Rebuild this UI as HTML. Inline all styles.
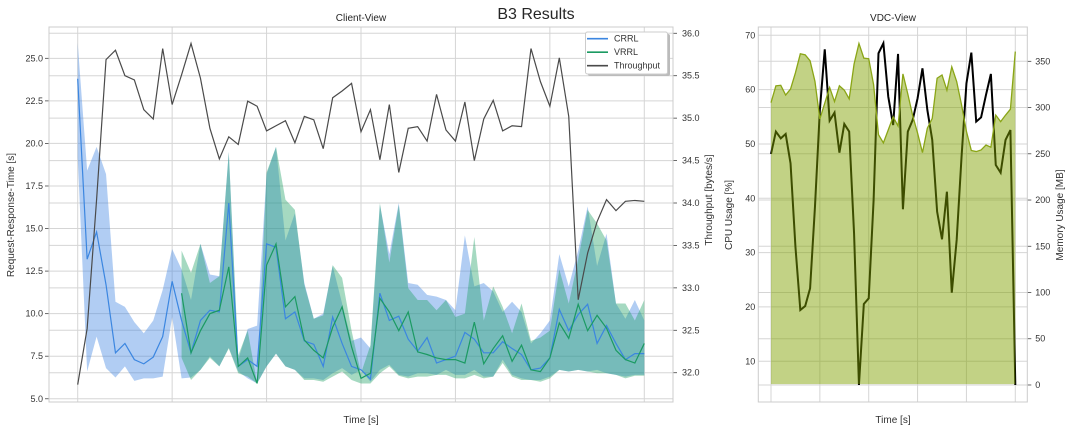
<!DOCTYPE html>
<html><head><meta charset="utf-8"><style>
body{margin:0;background:#fff;width:1073px;height:431px;overflow:hidden}
svg{display:block;font-family:"Liberation Sans","DejaVu Sans",sans-serif}
</style></head><body>
<svg id="chart" width="1073" height="431" viewBox="0 0 1073 431">
<text x="536" y="19" font-size="16" text-anchor="middle" fill="#262626">B3 Results</text>
<text x="361" y="21" font-size="10" text-anchor="middle" fill="#262626">Client-View</text>
<text x="893" y="21" font-size="10" text-anchor="middle" fill="#262626">VDC-View</text>
<g id="g1"></g>
<g id="g2"></g>
</svg>
<script>
// ---- Client view data ----
const clientTicksLeft=[5,7.5,10,12.5,15,17.5,20,22.5,25];
const clientTicksRight=[32,32.5,33,33.5,34,34.5,35,35.5,36];
const throughput=[31.86,32.52,34.04,35.69,35.80,35.50,35.45,35.10,34.99,35.82,35.16,35.51,35.88,35.47,34.88,34.52,34.78,34.69,35.20,35.14,34.85,34.91,34.97,34.71,35.02,34.98,34.64,35.24,35.32,35.41,
34.84,35.10,34.51,35.16,34.36,34.88,34.90,34.73,35.28,34.86,34.73,35.19,34.50,34.99,35.21,34.85,34.91,34.90,35.82,35.43,35.14,35.71,35.02,32.86,33.41,33.78,34.04,33.91,34.02,34.03,34.02];
const crrlMean=[23.8,13.2,14.8,11.7,7.7,8.25,7.3,7.05,7.45,8.65,11.9,9.6,7.7,9.6,10.2,10.1,16.5,6.9,7.3,6.9,14.1,13.9,9.7,10.1,8.4,8.2,6.9,9.8,8.25,6.9,
6.7,6.15,11.2,9.6,9.85,8.5,7.8,8.6,7.1,7.3,7.5,8.9,8.5,7.7,7.7,8.35,7.95,7.6,6.7,6.8,7.4,10.25,9.0,9.95,10.55,8.25,9.3,8.25,7.3,7.65,7.65];
const crrlUpper=[25.9,18.4,19.8,18.2,10.7,10.4,9.5,8.85,9.6,11.4,13.8,12.6,10.8,14.1,12.3,12.2,19.5,7.3,9.1,9.3,18.2,19.8,14.3,15.9,11.8,9.7,10.0,12.8,10.6,8.4,
8.6,7.95,16.4,13.5,16.5,11.8,11.7,11.1,11.0,10.8,10.2,14.6,11.6,11.8,11.3,10.1,10.7,10.1,8.25,8.85,9.6,13.5,11.6,13.7,16.3,12.8,14.7,10.6,9.7,10.8,9.6];
const crrlLower=[19.2,6.6,8.65,6.8,6.25,6.9,6.05,6.2,6.2,6.3,9.8,6.2,6.25,6.7,7.5,6.9,8.0,6.6,6.2,5.9,6.9,7.65,6.9,6.7,6.2,6.2,6.1,6.5,6.8,6.4,
6.7,6.0,6.7,7.0,6.4,6.3,6.5,6.5,6.4,6.7,6.4,6.4,6.7,6.3,6.3,7.3,6.4,6.2,6.1,6.1,6.3,6.7,6.6,6.7,6.6,6.7,6.5,6.4,6.3,6.4,6.4];
const vrrlStart=11;
const vrrlMean=[11.2,7.7,9.0,10.0,10.2,12.75,6.9,7.4,5.9,12.85,14.1,10.4,11.0,8.45,7.85,7.4,9.2,10.4,8.05,
6.2,6.5,10.9,10.1,9.0,10.1,7.75,7.6,7.4,7.3,7.3,7.1,9.5,7.05,7.95,8.7,7.2,8.15,6.7,6.6,7.4,9.45,8.55,10.55,9.0,9.9,9.15,7.85,7.3,7.1,8.25];
const vrrlUpper=[13.7,12.4,14.1,11.8,12.2,19.5,7.55,9.0,5.9,18.3,19.8,16.7,16.1,11.7,9.7,9.9,12.85,12.1,9.0,
6.5,8.15,16.5,13.0,16.4,11.5,10.8,10.8,10.2,10.8,9.8,10.0,14.5,9.6,11.6,10.4,8.85,10.6,8.4,8.6,9.0,12.6,10.6,13.2,16.1,15.3,14.3,10.6,10.6,9.6,10.8];
const vrrlLower=[7.4,6.1,6.7,7.4,6.9,7.95,6.5,6.3,5.9,6.9,7.65,6.9,6.7,6.1,6.1,6.0,6.3,6.6,6.1,
5.9,5.9,6.5,6.9,6.35,6.2,6.3,6.3,6.4,6.4,6.2,6.2,6.4,6.2,6.3,7.1,6.3,6.1,6.1,6.0,6.2,6.7,6.6,6.7,6.6,6.5,6.5,6.4,6.2,6.35,6.35];
// ---- VDC view data ----
const vdcTicksLeft=[10,20,30,40,50,60,70];
const vdcTicksRight=[0,50,100,150,200,250,300,350];
const cpuUsage=[57.6,60.7,60.8,59.0,60.1,63.1,66.6,66.4,65.3,61.5,54.6,57.5,60.4,57.8,60.7,59.9,58.3,64.7,68.5,65.8,65.7,60.9,51.7,50.2,52.6,55.0,53.3,62.9,59.2,55.2,52.0,48.4,52.9,54.7,62.1,62.7,59.9,64.2,61.5,57.2,52.3,48.8,48.6,48.9,49.8,49.4,55.3,54.1,55.3,56.4,67.0];
const cpuBase=5.8;
const memUsage=[249.8,274,266.7,271.4,239.7,149.5,81.1,85.4,104.5,192.8,297.4,363,285.8,294.5,251.2,282.2,274,164,0,87.6,93.7,200,358.7,369.5,311.8,281.1,358,190,274,286.6,310,342.4,297.4,265,187.4,157.5,209,99.8,156.8,246.9,326.2,359.4,284.8,289.4,313.6,336.3,237.9,229.6,265,275.7,0];

const NS='http://www.w3.org/2000/svg';
function mk(parent,tag,attrs){const e=document.createElementNS(NS,tag);for(const k in attrs)e.setAttribute(k,attrs[k]);parent.appendChild(e);return e;}
function lin(d0,d1,r0,r1){return v=>r0+(v-d0)/(d1-d0)*(r1-r0);}
function pathLine(xs,ys){return xs.map((x,i)=>(i?'L':'M')+x.toFixed(2)+','+ys[i].toFixed(2)).join('');}
function band(xs,yu,yl){let d=pathLine(xs,yu);for(let i=xs.length-1;i>=0;i--)d+='L'+xs[i].toFixed(2)+','+yl[i].toFixed(2);return d+'Z';}
const GRID='#d5d5d5',TXT='#333';

// ===== Client view =====
(function(){
const g=document.getElementById('g1');
const L=49,R=673,T=27,B=402;
const x=lin(0,crrlMean.length-1,77.7,644.3);
const yl=lin(4.81,26.84,B,T);
const yr=lin(31.655,36.074,B,T);
[0,10,20,30,40,50,60].forEach(i=>{const gl=mk(g,'line',{x1:x(i),x2:x(i),y1:T,y2:B,stroke:GRID,'stroke-width':1});

});
clientTicksLeft.forEach(v=>{const yy=yl(v);
const gl=mk(g,'line',{x1:L,x2:R,y1:yy,y2:yy,stroke:GRID,'stroke-width':1});


mk(g,'line',{x1:L-4,x2:L,y1:yy,y2:yy,stroke:'#444','stroke-width':0.8});
const t=mk(g,'text',{x:L-6,y:yy+3,'font-size':9,'text-anchor':'end',fill:TXT});t.textContent=v.toFixed(1);

});
clientTicksRight.forEach(v=>{const yy=yr(v);
const gl=mk(g,'line',{x1:L,x2:R,y1:yy,y2:yy,stroke:GRID,'stroke-width':1});


mk(g,'line',{x1:R,x2:R+4,y1:yy,y2:yy,stroke:'#444','stroke-width':0.8});
const t=mk(g,'text',{x:R+9,y:yy+3,'font-size':9,fill:TXT});t.textContent=v.toFixed(1);

});
const xs=crrlMean.map((_,i)=>x(i));
const b1=mk(g,'path',{d:band(xs,crrlUpper.map(yl),crrlLower.map(yl)),fill:'rgb(59,130,226)','fill-opacity':0.4});


const vx=vrrlMean.map((_,i)=>x(i+vrrlStart));
const b2=mk(g,'path',{d:band(vx,vrrlUpper.map(yl),vrrlLower.map(yl)),fill:'rgb(30,160,100)','fill-opacity':0.4});


const l1=mk(g,'path',{d:pathLine(xs,crrlMean.map(yl)),fill:'none',stroke:'#3b86e0','stroke-width':1.2});


const l2=mk(g,'path',{d:pathLine(vx,vrrlMean.map(yl)),fill:'none',stroke:'#1b9a62','stroke-width':1.2});


const l3=mk(g,'path',{d:pathLine(xs,throughput.map(yr)),fill:'none',stroke:'#4a4a4a','stroke-width':1.2});


const fr=mk(g,'rect',{x:L,y:T,width:R-L,height:B-T,fill:'none',stroke:'#ccc','stroke-width':1});


let t=mk(g,'text',{x:361,y:423,'font-size':10,'text-anchor':'middle',fill:TXT});t.textContent='Time [s]';


t=mk(g,'text',{x:14,y:215,'font-size':10,'text-anchor':'middle',fill:TXT,transform:'rotate(-90 14 215)'});t.textContent='Request-Response-Time [s]';


t=mk(g,'text',{x:712,y:200,'font-size':10,'text-anchor':'middle',fill:TXT,transform:'rotate(-90 712 200)'});t.textContent='Throughput [bytes/s]';


// legend
const lg=mk(g,'g',{});


mk(lg,'rect',{x:588,y:34,width:82,height:42,fill:'#bbb',rx:2});
mk(lg,'rect',{x:585.5,y:32,width:82,height:42,fill:'#fff',stroke:'#ccc','stroke-width':1,rx:2});
[['CRRL','#3b86e0'],['VRRL','#1b9a62'],['Throughput','#4a4a4a']].forEach((e,i)=>{const yy=38.7+i*13.5;
const en=mk(lg,'g',{});


mk(en,'line',{x1:587,x2:608,y1:yy,y2:yy,stroke:e[1],'stroke-width':1.6});
const tt=mk(en,'text',{x:614,y:yy+3,'font-size':9,fill:TXT});tt.textContent=e[0];});
})();

// ===== VDC view =====
(function(){
const g=document.getElementById('g2');
const L=758.3,R=1027.3,T=27,B=402;
const x=lin(0,cpuUsage.length-1,771,1015.3);
const yl=lin(2.5,71.53,B,T);
const yr=lin(-18.4,387.1,B,T);
[0,10,20,30,40,50].forEach(i=>{const gl=mk(g,'line',{x1:x(i),x2:x(i),y1:T,y2:B,stroke:GRID,'stroke-width':1});

});
vdcTicksLeft.forEach(v=>{const yy=yl(v);
const gl=mk(g,'line',{x1:L,x2:R,y1:yy,y2:yy,stroke:GRID,'stroke-width':1});


const t=mk(g,'text',{x:L-3,y:yy+3,'font-size':9,'text-anchor':'end',fill:TXT});t.textContent=v;

});
vdcTicksRight.forEach(v=>{const yy=yr(v);
const gl=mk(g,'line',{x1:L,x2:R,y1:yy,y2:yy,stroke:GRID,'stroke-width':1});


mk(g,'line',{x1:R,x2:R+4,y1:yy,y2:yy,stroke:'#444','stroke-width':0.8});
const t=mk(g,'text',{x:R+8,y:yy+3,'font-size':9,fill:TXT});t.textContent=v;

});
const xs=memUsage.map((_,i)=>x(i));
const ml=mk(g,'path',{d:pathLine(xs,memUsage.map(yr)),fill:'none',stroke:'#000','stroke-width':2});


const cx=cpuUsage.map((_,i)=>x(i));
const cf=mk(g,'path',{d:band(cx,cpuUsage.map(yl),cpuUsage.map(()=>yl(cpuBase))),fill:'rgb(128,160,0)','fill-opacity':0.48});


const cl=mk(g,'path',{d:pathLine(cx,cpuUsage.map(yl)),fill:'none',stroke:'#8aa516','stroke-width':1.3});


const fr=mk(g,'rect',{x:L,y:T,width:R-L,height:B-T,fill:'none',stroke:'#ccc','stroke-width':1});


let t=mk(g,'text',{x:893,y:423,'font-size':10,'text-anchor':'middle',fill:TXT});t.textContent='Time [s]';


t=mk(g,'text',{x:732,y:215,'font-size':10,'text-anchor':'middle',fill:TXT,transform:'rotate(-90 732 215)'});t.textContent='CPU Usage [%]';


t=mk(g,'text',{x:1063,y:215,'font-size':10,'text-anchor':'middle',fill:TXT,transform:'rotate(-90 1063 215)'});t.textContent='Memory Usage [MB]';


})();
</script>
</body></html>
